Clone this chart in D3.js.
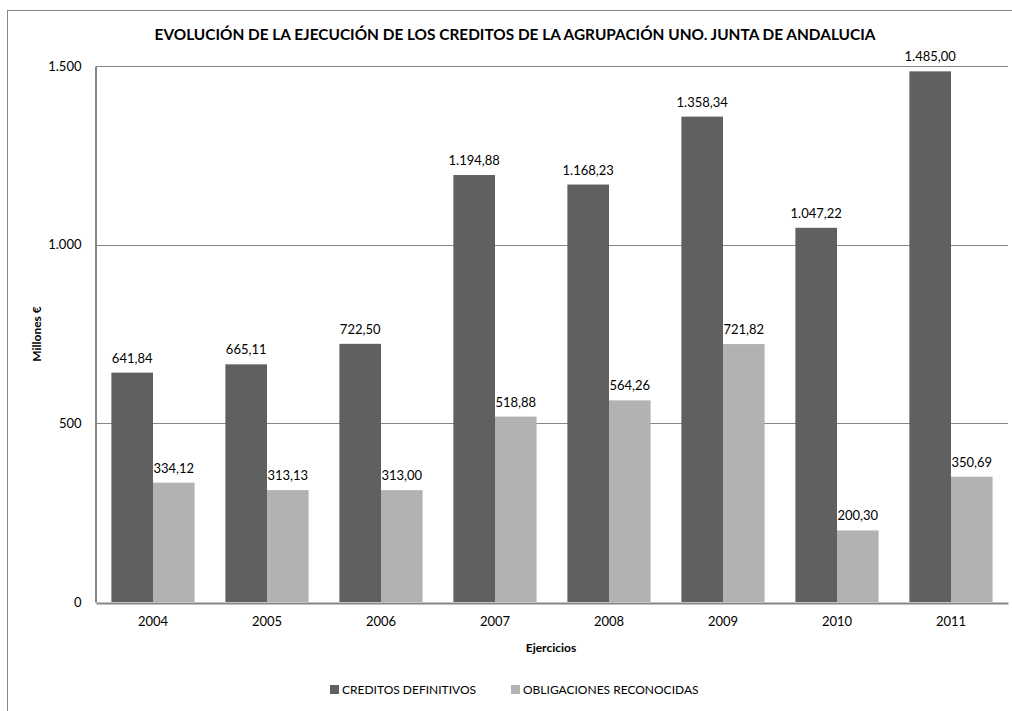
<!DOCTYPE html>
<html>
<head>
<meta charset="utf-8">
<script src="https://cdn.jsdelivr.net/npm/d3@7"></script>
<style>
  body { margin: 0; background: #fff; }
  text { font-family: Lato, "Open Sans", sans-serif; fill: #000; }
</style>
</head>
<body>
<div id="chart-holder"></div>
<script>
// data
var years = ['2004', '2005', '2006', '2007', '2008', '2009', '2010', '2011'];
var seriesNames = ['CREDITOS DEFINITIVOS', 'OBLIGACIONES RECONOCIDAS'];
var creditos = [641.84, 665.11, 722.50, 1194.88, 1168.23, 1358.34, 1047.22, 1485.00];
var obligaciones = [334.12, 313.13, 313.00, 518.88, 564.26, 721.82, 200.30, 350.69];
var yTicks = [0, 500, 1000, 1500];

var colors = ['#606060', '#b2b2b2'];

var width = 1012, height = 711,
    plot = { left: 96, right: 1008, top: 66, bottom: 602 };

var es = d3.formatLocale({ decimal: ',', thousands: '.', grouping: [3], currency: ['', ' €'] }),
    fmtTick = es.format(',.0f'),
    fmtVal = es.format(',.2f');

var svg = d3.select('#chart-holder').append('svg')
    .attr('width', width).attr('height', height);

// outer chart frame (cut off at right / bottom like the source)
svg.append('rect')
    .attr('x', 7.5).attr('y', 10.5)
    .attr('width', width + 20).attr('height', height + 20)
    .attr('fill', 'none').attr('stroke', '#868686');

var x = d3.scaleBand().domain(years).range([plot.left, plot.right]).paddingInner(0).paddingOuter(0),
    y = d3.scaleLinear().domain([0, 1500]).range([plot.bottom, plot.top]);

var groupPad = 0.27,
    barW = x.bandwidth() * (1 - groupPad) / 2;

// gridlines
svg.append('g').selectAll('line')
    .data(yTicks.filter(function (d) { return d > 0; }))
    .enter().append('line')
    .attr('x1', plot.left).attr('x2', plot.right)
    .attr('y1', function (d) { return Math.round(y(d)) + 0.5; })
    .attr('y2', function (d) { return Math.round(y(d)) + 0.5; })
    .attr('stroke', '#868686').attr('stroke-width', 1);

// y axis
var yAxis = svg.append('g')
    .attr('transform', 'translate(' + (plot.left - 0.5) + ',0)')
    .call(d3.axisLeft(y).tickValues(yTicks).tickFormat(fmtTick).tickSize(0).tickPadding(14));
yAxis.select('.domain').attr('stroke', '#868686').attr('stroke-width', 2);
yAxis.selectAll('text').style('font-size', '13px').style('font-family', 'Lato, sans-serif');

var rows = years.map(function (yr, i) { return { year: yr, vals: [creditos[i], obligaciones[i]] }; });

var groups = svg.append('g').selectAll('g')
    .data(rows).enter().append('g')
    .attr('transform', function (d) { return 'translate(' + (x(d.year) + x.bandwidth() / 2 - barW) + ',0)'; });

groups.selectAll('rect')
    .data(function (d) { return d.vals; })
    .enter().append('rect')
    .attr('x', function (d, i) { return i * barW; })
    .attr('width', barW)
    .attr('y', function (d) { return y(d); })
    .attr('height', function (d) { return y(0) - y(d); })
    .attr('fill', function (d, i) { return colors[i]; });

groups.selectAll('text.val')
    .data(function (d) { return d.vals; })
    .enter().append('text')
    .attr('class', 'val')
    .attr('x', function (d, i) { return i * barW + barW / 2; })
    .attr('y', function (d) { return y(d) - 10; })
    .attr('text-anchor', 'middle')
    .style('font-size', '13px')
    .text(function (d) { return fmtVal(d); });

// x axis
var xAxis = svg.append('g')
    .attr('transform', 'translate(0,' + (plot.bottom + 1) + ')')
    .call(d3.axisBottom(x).tickSize(0).tickPadding(14));
xAxis.select('.domain').attr('stroke', '#868686').attr('stroke-width', 2);
xAxis.selectAll('text').style('font-size', '13px').style('font-family', 'Lato, sans-serif');

// titles
svg.append('text')
    .attr('x', 515).attr('y', 40)
    .attr('text-anchor', 'middle')
    .style('font-size', '15.4px').style('font-weight', 'bold')
    .text('EVOLUCIÓN DE LA EJECUCIÓN DE LOS CREDITOS DE LA AGRUPACIÓN UNO. JUNTA DE ANDALUCIA');

svg.append('text')
    .attr('x', 551).attr('y', 652)
    .attr('text-anchor', 'middle')
    .style('font-size', '12px').style('font-weight', 'bold')
    .text('Ejercicios');

svg.append('text')
    .attr('transform', 'translate(41,334) rotate(-90)')
    .attr('text-anchor', 'middle')
    .style('font-size', '12px').style('font-weight', 'bold')
    .text('Millones €');

// legend
var legendX = [330, 511];
var legend = svg.append('g').selectAll('g')
    .data(seriesNames).enter().append('g')
    .attr('transform', function (d, i) { return 'translate(' + legendX[i] + ',685)'; });
legend.append('rect')
    .attr('width', 9).attr('height', 9)
    .attr('fill', function (d, i) { return colors[i]; });
legend.append('text')
    .attr('x', 12).attr('y', 9)
    .style('font-size', '12px')
    .text(function (d) { return d; });
</script>
</body>
</html>
